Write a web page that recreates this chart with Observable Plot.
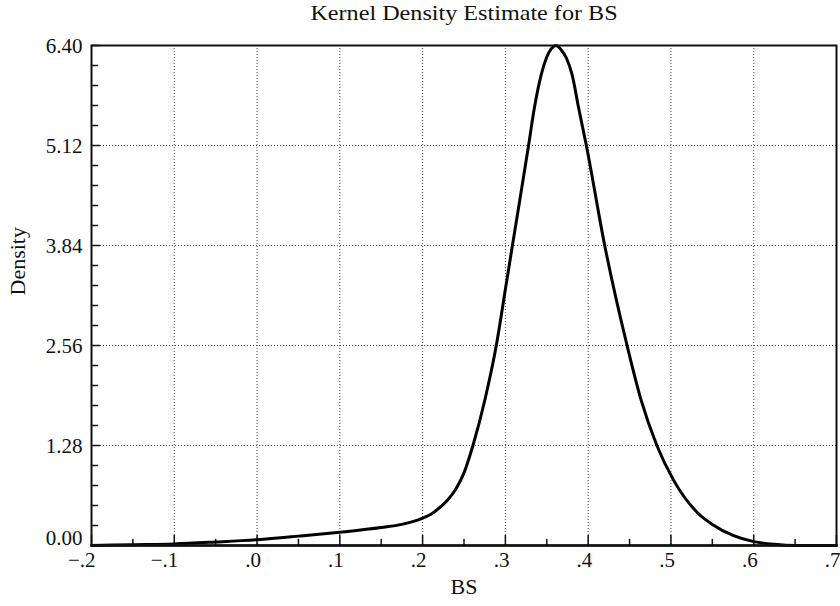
<!DOCTYPE html>
<html>
<head>
<meta charset="utf-8">
<script src="https://cdn.jsdelivr.net/npm/d3@7"></script>
<script src="https://cdn.jsdelivr.net/npm/@observablehq/plot@0.6"></script>
<style>
  html, body { margin: 0; padding: 0; background: #fff; }
  #title { height: 30px; width: 840px; font-family: "Liberation Serif", "Times New Roman", serif; font-size: 21px; color: #111; position: relative; }
  #title span { position: absolute; left: 464px; top: 1px; transform: translateX(-50%) scaleX(1.15); white-space: nowrap; }
</style>
</head>
<body>
<div id="title"><span id="titletext"></span></div>
<div id="chart"></div>
<script>
// Data
const bsValues = [-0.2, -0.15, -0.1, -0.05, 0.0, 0.05, 0.1, 0.15, 0.175, 0.2, 0.21, 0.22, 0.23, 0.24, 0.25, 0.2608, 0.2757, 0.289, 0.3, 0.3085, 0.328, 0.335, 0.3434, 0.3495, 0.3555, 0.3612, 0.367, 0.3737, 0.3805, 0.3885, 0.3978, 0.42, 0.447, 0.464, 0.483, 0.503, 0.533, 0.55, 0.575, 0.6, 0.625, 0.65, 0.7];
const densityValues = [0.0, 0.01, 0.02, 0.045, 0.075, 0.12, 0.17, 0.23, 0.27, 0.35, 0.40, 0.48, 0.58, 0.72, 0.93, 1.28, 1.885, 2.56, 3.28, 3.84, 5.12, 5.60, 6.03, 6.24, 6.36, 6.40, 6.35, 6.24, 6.03, 5.60, 5.12, 3.84, 2.56, 1.86, 1.28, 0.84, 0.41, 0.27, 0.13, 0.05, 0.015, 0.0, 0.0];

const xMajor = [-0.2, -0.1, 0.0, 0.1, 0.2, 0.3, 0.4, 0.5, 0.6, 0.7];
const xLabels = ["\u2212.2", "\u2212.1", ".0", ".1", ".2", ".3", ".4", ".5", ".6", ".7"];
const xMinor = [-0.15, -0.05, 0.05, 0.15, 0.25, 0.35, 0.45, 0.55, 0.65];
const yMajor = [0.00, 1.28, 2.56, 3.84, 5.12, 6.40];
const yLabels = ["0.00", "1.28", "2.56", "3.84", "5.12", "6.40"];
const yMinor = [0.256, 0.512, 0.768, 1.024, 1.536, 1.792, 2.048, 2.304, 2.816, 3.072, 3.328, 3.584, 4.096, 4.352, 4.608, 4.864, 5.376, 5.632, 5.888, 6.144];

const title = "Kernel Density Estimate for BS";
const xTitle = "BS";
const yTitle = "Density";

document.getElementById("titletext").textContent = title;

const data = bsValues.map((x, i) => ({x, y: densityValues[i]}));
const yTickRows = yMajor.map((y, i) => ({y, label: yLabels[i]}));

const lineShape = {draw(context, l) { context.moveTo(0, 0); context.lineTo(0, -l); }};
const font = "Liberation Serif, Times New Roman, serif";

const chart = Plot.plot({
  width: 840,
  height: 576,
  marginTop: 15,
  marginBottom: 61,
  marginLeft: 91,
  marginRight: 4,
  style: {fontFamily: font, fontSize: "21px", color: "#111", background: "white"},
  x: {domain: [-0.2, 0.7], axis: null},
  y: {domain: [0, 6.4], axis: null},
  marks: [
    Plot.ruleX(xMajor.slice(1, -1), {x: d => d, stroke: "#444", strokeWidth: 1, strokeDasharray: "1,2"}),
    Plot.ruleY(yMajor.slice(1, -1), {y: d => d, stroke: "#444", strokeWidth: 1, strokeDasharray: "1,2"}),
    Plot.vector(xMajor, {x: d => d, frameAnchor: "bottom", length: 10, anchor: "start", shape: lineShape, stroke: "#111", strokeWidth: 1.5}),
    Plot.vector(xMinor, {x: d => d, frameAnchor: "bottom", length: 6, anchor: "start", shape: lineShape, stroke: "#111", strokeWidth: 1.5}),
    Plot.vector(yMajor, {y: d => d, frameAnchor: "left", rotate: 90, length: 8, anchor: "start", shape: lineShape, stroke: "#111", strokeWidth: 1.5}),
    Plot.vector(yMinor, {y: d => d, frameAnchor: "left", rotate: 90, length: 6, anchor: "start", shape: lineShape, stroke: "#111", strokeWidth: 1.5}),
    Plot.line(data, {x: "x", y: "y", curve: "monotone-x", stroke: "#000", strokeWidth: 3}),
    Plot.frame({stroke: "#111", strokeWidth: 2}),
    Plot.ruleY([0], {stroke: "#111", strokeWidth: 2.5}),
    Plot.text(xMajor, {x: d => d, frameAnchor: "bottom", dy: 21, dx: 4, text: (d, i) => xLabels[i], textAnchor: "end", fill: "#111"}),
    Plot.text(yTickRows.slice(1), {y: "y", frameAnchor: "left", dx: -9, dy: 1, text: "label", textAnchor: "end", fill: "#111"}),
    Plot.text(yTickRows.slice(0, 1), {y: "y", frameAnchor: "left", dx: -9, dy: -7, text: "label", textAnchor: "end", fill: "#111"}),
    Plot.text([xTitle], {frameAnchor: "bottom", dy: 48, text: d => d, fill: "#111", fontSize: 22}),
    Plot.text([yTitle], {frameAnchor: "left", dx: -74, rotate: -90, text: d => d, fill: "#111", fontSize: 22})
  ]
});
document.getElementById("chart").appendChild(chart);
</script>
</body>
</html>
